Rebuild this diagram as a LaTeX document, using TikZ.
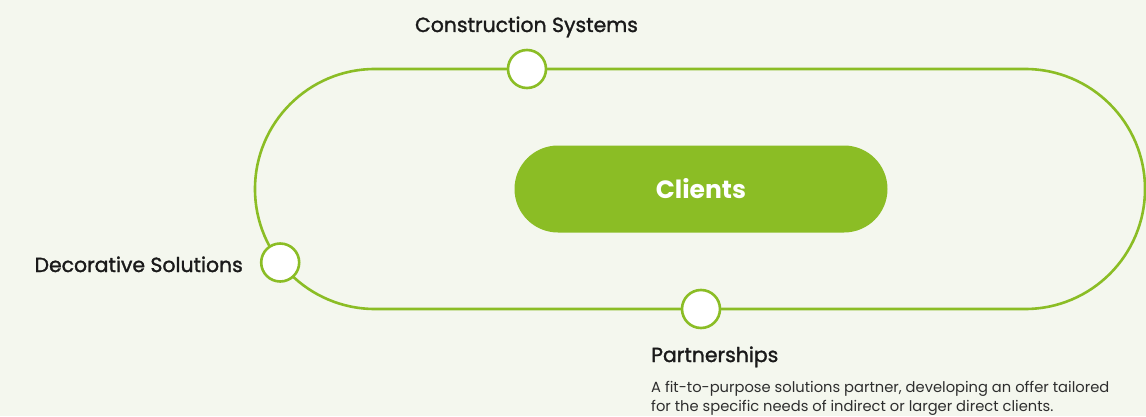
\documentclass[tikz,border=0pt]{standalone}
\usepackage{fontspec}
\setmainfont{Poppins}
\newfontfamily\headfont{Poppins}[FakeBold=1.4]
\definecolor{bg}{HTML}{F4F7EE}
\definecolor{leaf}{HTML}{8BBD25}
\definecolor{ink}{HTML}{1A1A1A}
\definecolor{body}{HTML}{2E2E2E}
\begin{document}
\begin{tikzpicture}[x=1pt,y=1pt,
  track/.style={draw=leaf,line width=2.6pt},
  stop/.style={circle,draw=leaf,line width=2.6pt,fill=white,minimum size=38pt,inner sep=0pt},
  hub/.style={fill=leaf,rounded corners=43.5pt,minimum width=373pt,minimum height=87pt,
    text=white,font=\fontsize{25}{30}\selectfont\bfseries},
  heading/.style={text=ink,font=\headfont\fontsize{20.4}{25}\selectfont,inner sep=0pt},
  blurb/.style={text=body,font=\fontsize{14.7}{19}\selectfont,inner sep=0pt,align=left}]
  % page
  \fill[bg] (0,0) rectangle (1146,416);
  \useasboundingbox (0,0) rectangle (1146,416);
  % stadium-shaped track
  \draw[track] (375,347) -- (1025,347) arc[start angle=90,end angle=-90,radius=120]
    -- (375,107) arc[start angle=270,end angle=90,radius=120] -- cycle;
  % centre pill
  \node[hub] (clients) at (701,227) {Clients};
  % stops on the track
  \node[stop] (cs) at (527,347) {};
  \node[stop] (ds) at (280.2,153.5) {};
  \node[stop] (pa) at (701,107) {};
  % labels
  \node[heading,anchor=base] (cslabel) at (526.5,384) {Construction Systems};
  \node[heading,anchor=base east] (dslabel) at (243,144) {Decorative Solutions};
  \node[heading,anchor=base west] (palabel) at (651,54) {Partnerships};
  % the base of a two-line node is its last line
  \node[blurb,anchor=base west] (patext) at (651,5) {A fit-to-purpose solutions partner, developing an offer tailored\\for the specific needs of indirect or larger direct clients.};
\end{tikzpicture}
\end{document}
